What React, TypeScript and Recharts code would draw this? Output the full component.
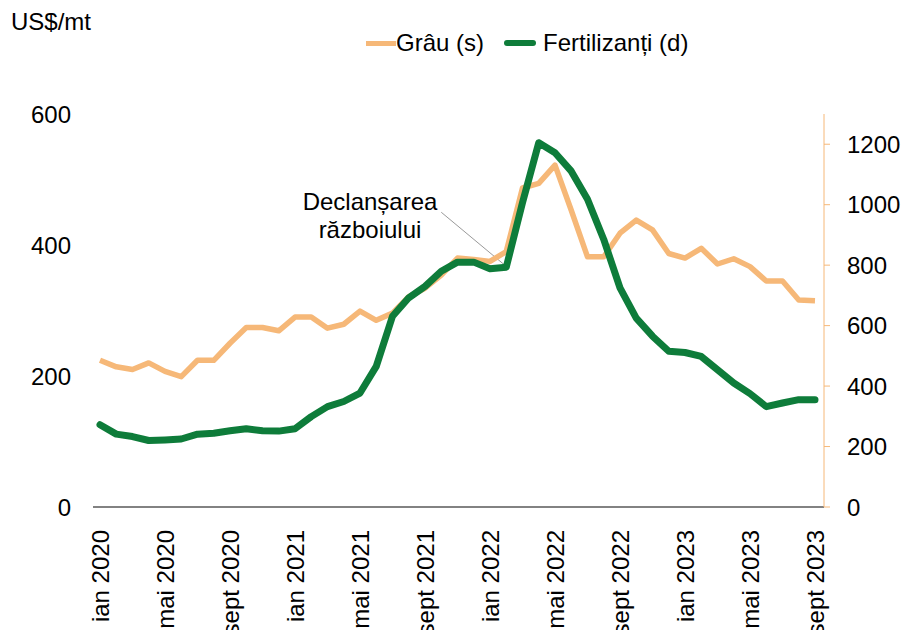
import React from "react";
import { LineChart, Line, XAxis, YAxis, Legend, ReferenceLine } from "recharts";

// luni in romana, ian 2020 - sept 2023
const monthNames = ["ian", "feb", "mar", "apr", "mai", "iun", "iul", "aug", "sept", "oct", "nov", "dec"];
const years = [2020, 2021, 2022, 2023];
const categories = years
  .flatMap((y) => monthNames.map((m) => `${m} ${y}`))
  .slice(0, 45);

// Grau, US$/mt (axa stanga)
const grau = [
  224, 214, 210, 220, 207, 199, 224, 224, 250, 274, 274, 269,
  290, 290, 273, 279, 299, 285, 296, 321, 334, 354, 380, 378,
  375, 390, 487, 494, 522, 453, 382, 382, 418, 438, 423, 387,
  380, 395, 371, 379, 367, 345, 345, 316, 315,
];

// Fertilizanti, US$/mt (axa dreapta)
const fertilizanti = [
  272, 241, 233, 220, 222, 225, 241, 244, 252, 259, 252, 251,
  259, 299, 332, 349, 377, 465, 631, 692, 730, 780, 810, 810,
  788, 793, 1007, 1205, 1172, 1111, 1018, 885, 725, 625, 565, 515,
  511, 498, 454, 410, 375, 332, 344, 355, 355,
];

const leftTicks = [0, 200, 400, 600];
const rightTicks = [0, 200, 400, 600, 800, 1000, 1200];
const legendOrder = ["grau", "fert"];

const ORANGE = "#F6B878";
const GREEN = "#0E7C3A";
const FONT = "'Liberation Sans', Arial, sans-serif";

const data = categories.map((c, i) => ({
  luna: c,
  grau: grau[i],
  fert: fertilizanti[i],
}));

const MonthTick = (props: any) => {
  const { x, y, payload } = props;
  return (
    <text
      x={x}
      y={y}
      transform={`rotate(-90, ${x}, ${y})`}
      textAnchor="end"
      dominantBaseline="central"
      fontSize={24}
      fontFamily={FONT}
      fill="#000"
    >
      {payload.value}
    </text>
  );
};

const renderLegend = (props: any) => {
  const items = [...(props.payload || [])].sort(
    (a: any, b: any) => legendOrder.indexOf(a.dataKey) - legendOrder.indexOf(b.dataKey)
  );
  return (
    <div style={{ display: "flex", alignItems: "center", fontFamily: FONT, fontSize: 24, lineHeight: "28px", color: "#000" }}>
      {items.map((entry: any, i: number) => (
        <div key={i} style={{ display: "flex", alignItems: "center", marginRight: 20 }}>
          <span
            style={{
              display: "inline-block",
              width: entry.dataKey === "fert" ? 32 : 30,
              height: entry.dataKey === "fert" ? 6 : 5,
              borderRadius: entry.dataKey === "fert" ? 3 : 0,
              background: entry.color,
              marginRight: entry.dataKey === "fert" ? 7 : 0,
            }}
          />
          <span>{entry.value}</span>
        </div>
      ))}
    </div>
  );
};

export default function App() {
  return (
    <div style={{ position: "absolute", left: 0, top: 0, width: 904, height: 630, background: "#fff" }}>
      <LineChart width={904} height={630} data={data} margin={{ top: 114, right: 0, bottom: 0, left: 0 }}>
        <XAxis
          dataKey="luna"
          height={123}
          interval={3}
          padding={{ left: 7, right: 9 }}
          axisLine={{ stroke: "#595959", strokeWidth: 1.5 }}
          tickLine={false}
          tickSize={0}
          tickMargin={23}
          tick={<MonthTick />}
        />
        <YAxis
          yAxisId="left"
          orientation="left"
          width={93}
          domain={[0, 600]}
          ticks={leftTicks}
          axisLine={false}
          tickLine={false}
          tickSize={0}
          tickMargin={22}
          tick={{ fontSize: 24, fontFamily: FONT, fill: "#000" }}
        />
        <YAxis
          yAxisId="right"
          orientation="right"
          width={80}
          domain={[0, 1300]}
          ticks={rightTicks}
          axisLine={{ stroke: ORANGE, strokeWidth: 1 }}
          tickLine={{ stroke: ORANGE, strokeWidth: 1 }}
          tickSize={6}
          tickMargin={17}
          tick={{ fontSize: 24, fontFamily: FONT, fill: "#000" }}
        />
        <Legend
          verticalAlign="middle"
          align="center"
          wrapperStyle={{ top: 29, left: 366, width: 360 }}
          content={renderLegend}
        />
        <ReferenceLine
          yAxisId="right"
          segment={[
            { x: categories[21], y: 975 },
            { x: categories[25], y: 796 },
          ]}
          stroke="#999"
          strokeWidth={1}
        />
        <Line
          yAxisId="left"
          type="linear"
          dataKey="grau"
          name="Grâu (s)"
          stroke={ORANGE}
          strokeWidth={5.5}
          strokeLinejoin="round"
          dot={false}
          activeDot={false}
          isAnimationActive={false}
        />
        <Line
          yAxisId="right"
          type="linear"
          dataKey="fert"
          name="Fertilizanți (d)"
          stroke={GREEN}
          strokeWidth={7}
          strokeLinejoin="round"
          strokeLinecap="round"
          dot={false}
          activeDot={false}
          isAnimationActive={false}
        />
      </LineChart>
      <div
        style={{
          position: "absolute",
          left: 11,
          top: 8,
          fontFamily: FONT,
          fontSize: 24,
          lineHeight: "28px",
          color: "#000",
        }}
      >
        US$/mt
      </div>
      <div
        style={{
          position: "absolute",
          left: 290,
          top: 188,
          width: 160,
          textAlign: "center",
          fontFamily: FONT,
          fontSize: 24,
          lineHeight: "28px",
          color: "#000",
        }}
      >
        Declanșarea
        <br />
        războiului
      </div>
    </div>
  );
}
